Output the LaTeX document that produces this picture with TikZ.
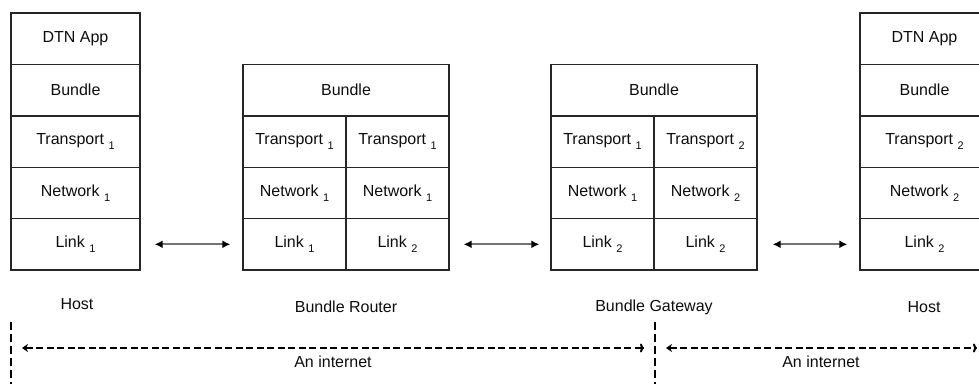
\documentclass[tikz,border=0pt]{standalone}
\usepackage{fontspec}
\setmainfont{Liberation Sans}
\usetikzlibrary{arrows.meta}
% layer subscript, set a little below the baseline
\newcommand\lsub[1]{~\raisebox{-0.6ex}{\fontsize{11}{11}\selectfont #1}}
\begin{document}
\begin{tikzpicture}[x=1pt,y=-1pt,
  txt/.style={font=\fontsize{16}{18}\selectfont, text=black!95},
  cell/.style={txt, draw=black!85, line width=1.4pt, minimum height=51.4pt, inner sep=0pt},
  hostcell/.style={cell, minimum width=129pt},
  fullcell/.style={cell, minimum width=206pt},
  halfcell/.style={cell, minimum width=103pt},
  lbl/.style={txt, inner sep=0pt},
  hop/.style={draw=black!55, line width=2pt,
    {Latex[length=8pt,width=8pt,black]}-{Latex[length=8pt,width=8pt,black]}},
  span/.style={draw=black, line width=2pt, dash pattern=on 7pt off 3.5pt,
    {Stealth[length=6pt,width=8pt,inset=2pt]}-{To[length=4pt,width=9pt]}},
  bound/.style={draw=black, line width=2pt, dash pattern=on 8pt off 4pt}]
\useasboundingbox (0,0) rectangle (979,383);

% left host stack
\node[hostcell] (ha1) at (75.5,38.7)  {DTN App};
\node[hostcell] (ha2) at (75.5,90.1)  {Bundle};
\node[hostcell] (ha3) at (75.5,141.5) {Transport\lsub{1}};
\node[hostcell] (ha4) at (75.5,192.9) {Network\lsub{1}};
\node[hostcell] (ha5) at (75.5,244.3) {Link\lsub{1}};

% bundle router
\node[fullcell] (r2)  at (346,90.1)    {Bundle};
\node[halfcell] (r3l) at (294.5,141.5) {Transport\lsub{1}};
\node[halfcell] (r3r) at (397.5,141.5) {Transport\lsub{1}};
\node[halfcell] (r4l) at (294.5,192.9) {Network\lsub{1}};
\node[halfcell] (r4r) at (397.5,192.9) {Network\lsub{1}};
\node[halfcell] (r5l) at (294.5,244.3) {Link\lsub{1}};
\node[halfcell] (r5r) at (397.5,244.3) {Link\lsub{2}};

% bundle gateway
\node[fullcell] (g2)  at (654,90.1)    {Bundle};
\node[halfcell] (g3l) at (602.5,141.5) {Transport\lsub{1}};
\node[halfcell] (g3r) at (705.5,141.5) {Transport\lsub{2}};
\node[halfcell] (g4l) at (602.5,192.9) {Network\lsub{1}};
\node[halfcell] (g4r) at (705.5,192.9) {Network\lsub{2}};
\node[halfcell] (g5l) at (602.5,244.3) {Link\lsub{2}};
\node[halfcell] (g5r) at (705.5,244.3) {Link\lsub{2}};

% right host stack
\node[hostcell] (hb1) at (924.5,38.7)  {DTN App};
\node[hostcell] (hb2) at (924.5,90.1)  {Bundle};
\node[hostcell] (hb3) at (924.5,141.5) {Transport\lsub{2}};
\node[hostcell] (hb4) at (924.5,192.9) {Network\lsub{2}};
\node[hostcell] (hb5) at (924.5,244.3) {Link\lsub{2}};

% link-layer hops
\draw[hop, shorten <=14pt, shorten >=12pt] (ha5.east) -- (r5l.west);
\draw[hop, shorten <=14pt, shorten >=11pt] (r5r.east) -- (g5l.west);
\draw[hop, shorten <=15pt, shorten >=12pt] (g5r.east) -- (hb5.west);

% node captions
\node[lbl] (capha) at (77,304)  {Host};
\node[lbl] (capr)  at (346,307) {Bundle Router};
\node[lbl] (capg)  at (654,307) {Bundle Gateway};
\node[lbl] (caphb) at (924,307) {Host};

% internet boundaries
\coordinate (b1t) at (11,322);  \coordinate (b1b) at (11,384);
\coordinate (b2t) at (655,322); \coordinate (b2b) at (655,384);
\draw[bound] (b1t) -- (b1b);
\draw[bound] (b2t) -- (b2b);

% internet spans
\coordinate (s1a) at (22,348);  \coordinate (s1b) at (644,348);
\coordinate (s2a) at (666,348); \coordinate (s2b) at (977,348);
\draw[span] (s1a) -- (s1b);
\draw[span] (s2a) -- (s2b);
\node[lbl] (net1) at (333,362) {An internet};
\node[lbl] (net2) at (821,362) {An internet};
\end{tikzpicture}
\end{document}
